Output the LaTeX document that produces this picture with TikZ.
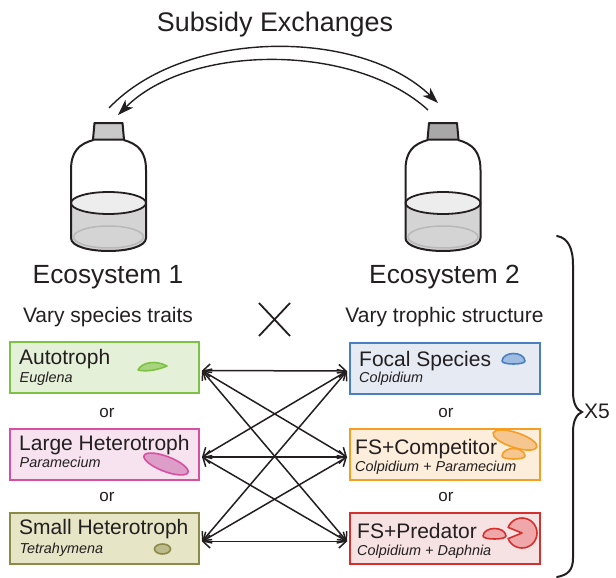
\documentclass[tikz,border=0pt]{standalone}
\usepackage{fontspec}
\setmainfont{Liberation Sans}
\usetikzlibrary{arrows.meta,calc}
\definecolor{ink}{HTML}{231F20}
\definecolor{grnB}{HTML}{7DC243}\definecolor{grnF}{HTML}{E4F0D7}\definecolor{grnO}{HTML}{A9D47F}
\definecolor{pnkB}{HTML}{D84FA0}\definecolor{pnkF}{HTML}{F6E3EF}\definecolor{pnkO}{HTML}{DD9DC9}
\definecolor{olvB}{HTML}{8C8A48}\definecolor{olvF}{HTML}{E6E5C6}\definecolor{olvO}{HTML}{BDBA8B}
\definecolor{bluB}{HTML}{4A7FC3}\definecolor{bluF}{HTML}{E5EAF3}\definecolor{bluO}{HTML}{9EBBE0}
\definecolor{orgB}{HTML}{F59E24}\definecolor{orgF}{HTML}{FDEEDB}\definecolor{orgO}{HTML}{F6C690}
\definecolor{redB}{HTML}{D4312E}\definecolor{redF}{HTML}{F6E2E3}\definecolor{redO}{HTML}{EFA7AA}
\definecolor{capL}{HTML}{C9C9C9}\definecolor{capR}{HTML}{A8A8A8}
\definecolor{liq}{HTML}{D4D4D4}\definecolor{surf}{HTML}{EDEDED}\definecolor{bot}{HTML}{B8B8B8}
\newcommand\mybottle[2]{%
  \begin{scope}[shift={(#1,0)}]
    \fill[liq] (-37.5,203) -- (-37.5,238) .. controls (-37.5,255.3) and (37.5,255.3) .. (37.5,238) -- (37.5,203) -- cycle;
    \draw[bot, line width=1.5pt] (0,237) ellipse [x radius=35, y radius=11];
    \draw[ink, fill=surf, line width=1.8pt] (0,203) ellipse [x radius=37.5, y radius=11];
    \draw[ink, line width=2pt, line join=round] (-15,140) .. controls (-30,144) and (-37.5,152) .. (-37.5,170)
      -- (-37.5,238) .. controls (-37.5,255.3) and (37.5,255.3) .. (37.5,238)
      -- (37.5,170) .. controls (37.5,152) and (30,144) .. (15,140);
    \draw[ink, fill=#2, line width=2pt, line join=round] (-14,123) -- (14,123) -- (15.5,139.5) -- (-15.5,139.5) -- cycle;
  \end{scope}}
\begin{document}
\begin{tikzpicture}[x=1pt,y=-1pt,
  txt/.style={inner sep=0pt, text=ink},
  big/.style={txt, font=\fontsize{26.3}{30}\selectfont, anchor=base},
  mid/.style={txt, font=\fontsize{21}{24}\selectfont, anchor=base},
  boxtitle/.style={txt, font=\fontsize{21}{24}\selectfont, anchor=base west},
  boxsub/.style={txt, font=\fontsize{14.4}{16}\selectfont\itshape, anchor=base west},
  ortext/.style={txt, font=\fontsize{17}{20}\selectfont, anchor=base},
  box/.style={draw, line width=2pt, minimum height=51pt, inner sep=0pt},
  lbox/.style={box, minimum width=189pt},
  rbox/.style={box, minimum width=190pt},
  org/.style={line width=1.6pt, line join=round},
  link/.style={ink, line width=1.5pt, {Straight Barb[length=7pt,width=13pt]}-{Straight Barb[length=7pt,width=13pt]}},
  subs/.style={ink, line width=1.4pt, -{Stealth[length=16pt,width=11pt,inset=4.5pt]}},
]
\useasboundingbox (0,0) rectangle (616,578);

% bottles
\mybottle{108.5}{capL}
\mybottle{443}{capR}

% subsidy arcs
\node[txt, font=\fontsize{26.9}{30}\selectfont, anchor=base] (title) at (275,32) {Subsidy Exchanges};
\coordinate (sa) at (109,108);
\coordinate (sb) at (438,103);
\coordinate (sc) at (428,110);
\coordinate (sd) at (118,115);
\draw[subs] (sa) .. controls (185,28) and (360,28) .. (sb);
\draw[subs] (sc) .. controls (355,43) and (190,43) .. (sd);

% headings
\node[big] (eco1) at (108,283) {Ecosystem 1};
\node[big] (eco2) at (444.5,283) {Ecosystem 2};
\node[mid] (vary1) at (108,322) {Vary species traits};
\node[mid] (vary2) at (444.5,322) {Vary trophic structure};
\draw[ink, line width=1.8pt] (259,303) -- (290,336) (259,336) -- (290,303);

% boxes
\node[lbox, draw=grnB, fill=grnF] (L1) at (104.5,367.5) {};
\node[lbox, draw=pnkB, fill=pnkF] (L2) at (104.5,454) {};
\node[lbox, draw=olvB, fill=olvF] (L3) at (104.5,538.5) {};
\node[rbox, draw=bluB, fill=bluF] (R1) at (445,368) {};
\node[rbox, draw=orgB, fill=orgF] (R2) at (445,454) {};
\node[rbox, draw=redB, fill=redF] (R3) at (445,538.5) {};

\node[boxtitle] (L1t) at (19,364) {Autotroph};
\node[boxsub] (L1s) at (19.5,382) {Euglena};
\node[boxtitle] (L2t) at (19,450) {Large Heterotroph};
\node[boxsub] (L2s) at (19.5,467) {Paramecium};
\node[boxtitle] (L3t) at (19,534.5) {Small Heterotroph};
\node[boxsub] (L3s) at (19.5,553) {Tetrahymena};
\node[boxtitle] (R1t) at (359,366) {Focal Species};
\node[boxsub] (R1s) at (359,382) {Colpidium};
\node[boxtitle] (R2t) at (355,454) {FS+Competitor};
\node[boxsub] (R2s) at (355,471) {Colpidium + Paramecium};
\node[boxtitle] (R3t) at (357,538.5) {FS+Predator};
\node[boxsub] (R3s) at (357,555.5) {Colpidium + Daphnia};

\node[ortext] (or1) at (107,417) {or};
\node[ortext] (or2) at (107,501) {or};
\node[ortext] (or3) at (446,417) {or};
\node[ortext] (or4) at (446,501) {or};

% organisms
\draw[org, draw=grnB, fill=grnO] (138,370) .. controls (142,362) and (156,360) .. (167,366) .. controls (158,370) and (146,372) .. cycle;
\draw[org, draw=pnkB, fill=pnkO, rotate around={-21:(166,464)}] (166,464) ellipse [x radius=23.5, y radius=7.5];
\draw[org, draw=olvB, fill=olvO] (162.5,549) ellipse [x radius=8, y radius=5];
\draw[org, draw=bluB, fill=bluO] (502,361) .. controls (503,351) and (524,351) .. (525,361) .. controls (525,365) and (502,365) .. cycle;
\draw[org, draw=orgB, fill=orgO, rotate around={-18:(515,440)}] (515,440) ellipse [x radius=23, y radius=7.5];
\draw[org, draw=orgB, fill=orgO] (502,456) .. controls (503,446) and (524,446) .. (525,456) .. controls (525,460) and (502,460) .. cycle;
\draw[org, draw=redB, fill=redO] (483,536) .. controls (484,526) and (505,526) .. (506,536) .. controls (506,540) and (483,540) .. cycle;
\draw[org, draw=redB, fill=redO] (522,533) -- ++(158:15) arc[start angle=158, end angle=-158, radius=15] -- cycle;

% connectors
\foreach \i in {1,2,3} {
  \coordinate (pL\i) at ($(L\i.east)+(2,3)$);
  \coordinate (pR\i) at ($(R\i.west)+(-2,3)$);
}
\foreach \i in {1,2,3} {
  \foreach \j in {1,2,3} {
    \draw[link] (pL\i) -- (pR\j);
  }
}

% brace
\draw[ink, line width=2pt, line cap=round] (557,236) .. controls (568,238) and (573,248) .. (573,265) -- (573,392) .. controls (573,404) and (577,410) .. (582,412) .. controls (577,414) and (573,420) .. (573,432) -- (573,558) .. controls (573,570) and (568,575) .. (557,577);
\node[txt, font=\fontsize{21}{24}\selectfont, anchor=base west] (x5) at (584,418) {X5};
\end{tikzpicture}
\end{document}
